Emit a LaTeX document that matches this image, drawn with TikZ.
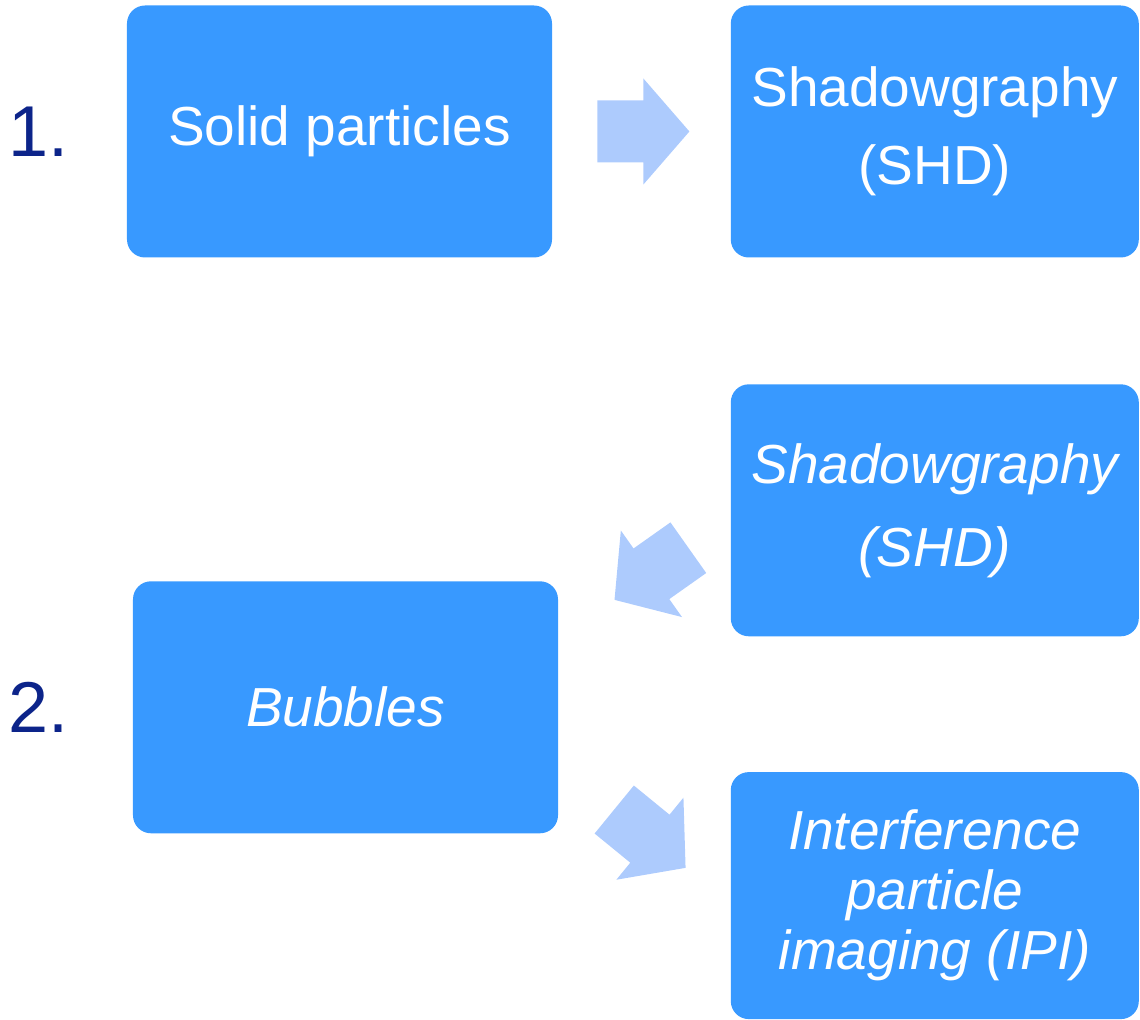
\documentclass[tikz,border=0pt]{standalone}
\usepackage{fontspec}
\setmainfont{Liberation Sans}
\usepackage{xcolor}
\usepackage{tikz}
\usetikzlibrary{calc,positioning}
\definecolor{boxblue}{HTML}{3899FF}
\definecolor{arrowblue}{HTML}{ADCBFD}
\definecolor{labelnavy}{HTML}{0C248A}
\tikzset{
  method/.style={rectangle, rounded corners=9pt, fill=boxblue, text=white, align=center, minimum width=204pt, minimum height=126pt, inner sep=0pt, font=\fontsize{27.5}{39}\selectfont},
  sample/.style={method, minimum width=212.5pt},
  bigarrow/.style={fill=arrowblue, to path={
    ($(\tikztostart)!15.5pt!90:(\tikztotarget)$)
    -- ($($(\tikztostart)!.5!(\tikztotarget)$)!15.5pt!90:(\tikztotarget)$)
    -- ($($(\tikztostart)!.5!(\tikztotarget)$)!26.5pt!90:(\tikztotarget)$)
    -- (\tikztotarget)
    -- ($($(\tikztostart)!.5!(\tikztotarget)$)!26.5pt!-90:(\tikztotarget)$)
    -- ($($(\tikztostart)!.5!(\tikztotarget)$)!15.5pt!-90:(\tikztotarget)$)
    -- ($(\tikztostart)!15.5pt!-90:(\tikztotarget)$) -- cycle}},
  num/.style={text=labelnavy, inner sep=0pt, font=\fontsize{36}{36}\selectfont},
}

\begin{document}
\begin{tikzpicture}[node distance=89pt]
  \useasboundingbox (-169.75pt,65.75pt) rectangle (400.25pt,-444.25pt);
  \node[sample] (solid) at (0,0) {Solid particles};
  \node[method,right=of solid] (shd) {Shadowgraphy\\(SHD)};
  \node[method,below=63pt of shd,font=\itshape\fontsize{27.5}{41.5}\selectfont] (shdit) {Shadowgraphy\\(SHD)};
  \node[method,below=67.5pt of shdit,minimum height=123.5pt,font=\itshape\fontsize{27.5}{30}\selectfont] (ipi) {Interference\\particle\\imaging (IPI)};
  \node[sample,below=161.5pt of solid,xshift=3pt,font=\itshape\fontsize{27.5}{39}\selectfont] (bubbles) {Bubbles};
  \node[num,left=29pt of solid] (one) {1.};
  \node[num,left=32pt of bubbles] (two) {2.};
  \coordinate (shditout) at ([yshift=-3.85pt]shdit.west);
  \coordinate (bubblesin) at ([yshift=33.9pt]bubbles.east);
  \coordinate (bubblesout) at ([yshift=-28.3pt]bubbles.east);
  \coordinate (ipiin) at ([yshift=-4.45pt]ipi.west);
  \path[bigarrow] ($(solid.east)!22.5pt!(shd.west)$) to ($(shd.west)!20.5pt!(solid.east)$);
  \path[bigarrow] ($(shditout)!25.75pt!(bubblesin)$) to ($(bubblesin)!34.35pt!(shditout)$);
  \path[bigarrow] ($(bubblesout)!36.05pt!(ipiin)$) to ($(ipiin)!28.95pt!(bubblesout)$);
\end{tikzpicture}
\end{document}
